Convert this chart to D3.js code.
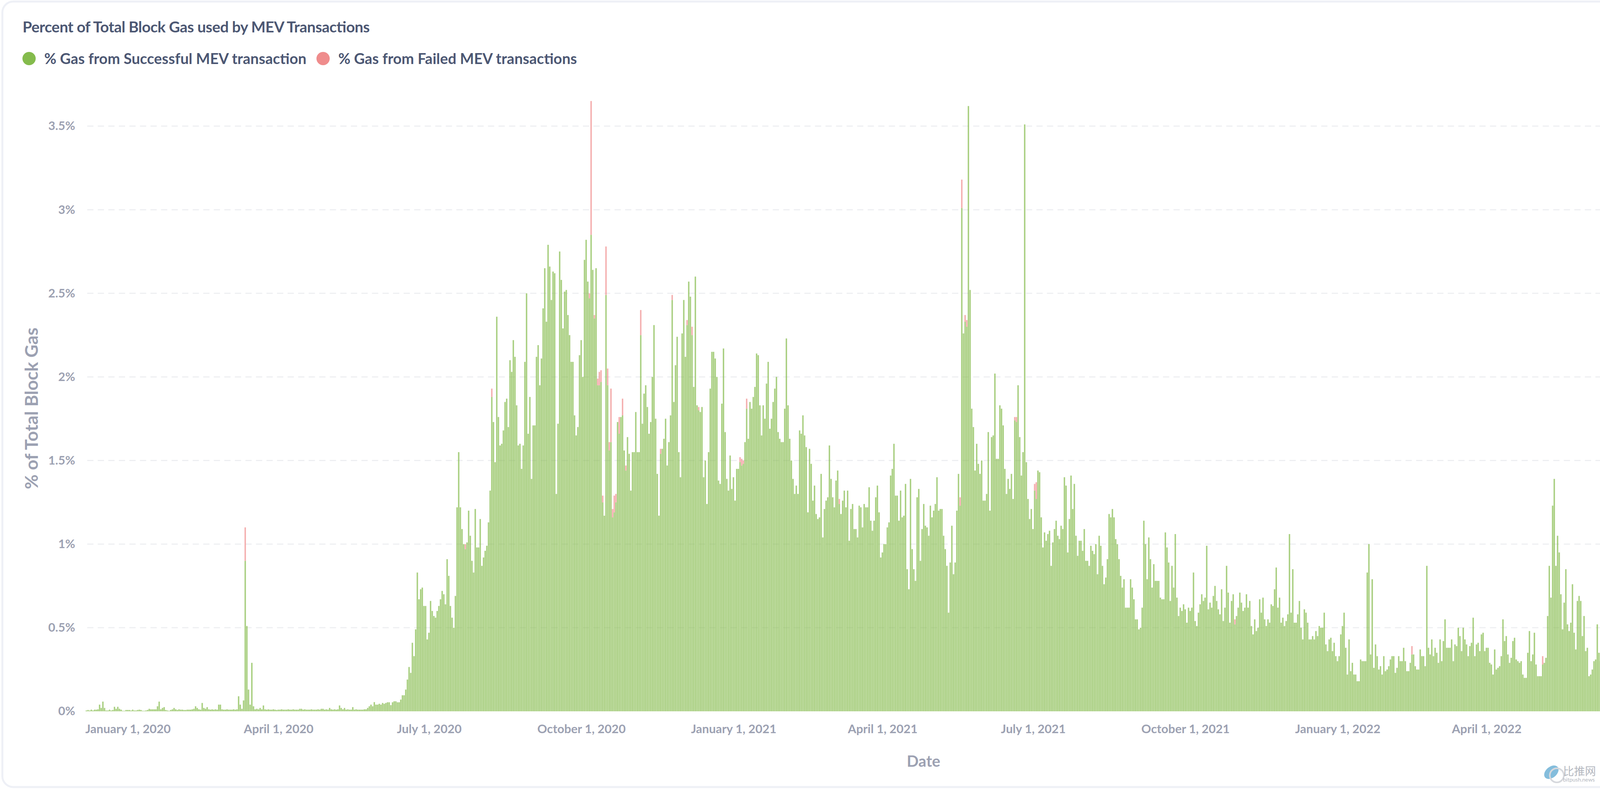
<!DOCTYPE html>
<html>
<head>
<meta charset="utf-8">
<script src="https://cdnjs.cloudflare.com/ajax/libs/d3/7.8.5/d3.min.js"></script>
<style>
    body { margin: 0; background: #fff; overflow: hidden; }
    svg { display: block; font-family: Lato, sans-serif; }
</style>
</head>
<body>
<svg id="chart"></svg>
<script>
const titleText = "Percent of Total Block Gas used by MEV Transactions"
const seriesNames = ["% Gas from Successful MEV transaction", "% Gas from Failed MEV transactions"]
const seriesColors = ["#84bb4c", "#ef8c8c"]
const firstDay = "2019-12-07"
const tickDays = ["2020-01-01", "2020-04-01", "2020-07-01", "2020-10-01", "2021-01-01", "2021-04-01", "2021-07-01", "2021-10-01", "2022-01-01", "2022-04-01"]
const yTicks = [0, 0.5, 1, 1.5, 2, 2.5, 3, 3.5]

// daily values, one array per stretch of the chart
const successEarly = [
    .005, .008, .005, .01, .005, .01, .01, .012, .04, .02, .058, .02, .005, .005, .01, .005, .008, .027, .015, .027,
    .015, .01, .003, .003, .008, .008, .008, .005, .01, .005, .005, .008, .01, .008, .003, .003, .005, .008, .015, .012,
    .012, .012, .012, .03, .058, .012, .02, .025, .008, .005, .003, .008, .012, .02, .012, .008, .012, .01, .01, .008,
    .008, .01, .01, .01, .012, .015, .03, .02, .012, .01, .05, .02, .015, .025, .012, .01, .012, .01, .012, .01,
    .04, .04, .012, .01, .01, .012, .01, .01, .01, .012, .01, .012, .09, .04, .015, .065, .9, .51, .13, .04,
    .29, .03, .012, .015, .012, .02, .012, .035, .012, .01, .012, .01, .01, .012, .01, .008, .01, .01, .012, .01,
    .01, .01, .012, .01, .01, .012, .01, .01, .01, .015, .015, .01, .012, .01, .01, .01, .012, .01, .01, .01,
    .012, .01, .015, .015, .01, .012, .01, .02, .012, .01, .012, .01, .012, .035, .02, .012, .02, .01, .012, .01,
    .01, .025, .01, .012, .01, .01, .01, .01, .012, .012, .02, .03, .04, .03, .055, .04, .04, .045, .04, .05,
    .045, .05
]
const success2020Summer = [
    .054, .054, .037, .054, .06, .06, .054, .054, .07, .096, .096, .13, .19, .265, .23, .41, .33, .49, .83, .67,
    .73, .74, .63, .63, .43, .47, .66, .6, .57, .56, .6, .63, .67, .72, .7, .64, .91, .81, .63, .56,
    .5, .69, 1.22, 1.55, 1.22, 1.09, 1, .97, 1.01, 1.2, 1.05, .9, .83, 1.21, .98, .98, 1.15, .87, .92, .96,
    .99, 1.13, 1.32, 1.88, 1.73, 1.49, 2.36, 1.76, 1.59, 1.6, 1.68, 1.85, 1.87, 1.7, 2.1, 2.03, 2.22, 2.12, 1.83, 1.59,
    1.6, 1.45, 1.59, 2.09, 2.5, 1.66, 1.88, 1.39, 1.71, 1.71, 2.12, 2.19, 1.95, 2.11, 2.41, 2.65, 2.33, 2.79, 2.66, 2.46,
    2.63, 2.62, 1.3, 1.72, 2.75, 2.58, 2.29, 2.51, 2.52, 2.37, 2.25, 2.09, 2.09, 1.77, 1.65, 1.7, 2.13, 2.22, 2, 2.7,
    2.82, 2.57, 2.47, 2.85, 2.64, 2.35, 2.65, 1.95, 1.95, 1.97
]
const success2020Autumn = [
    1.25, 1.17, 2.49, 1.95, 1.56, 1.61, 1.16, 1.19, 1.25, 1.73, 1.66, 1.76, 1.77, 1.56, 1.44, 1.64, 1.54, 1.32, 1.55, 1.55,
    1.79, 1.55, 1.55, 2.25, 1.72, 1.9, 1.95, 1.82, 1.66, 1.73, 2, 2.31, 1.75, 1.42, 1.17, 1.54, 1.57, 1.63, 1.75, 1.47,
    1.61, 1.77, 2.46, 1.85, 2.07, 2.24, 1.55, 1.4, 2.26, 2.46, 2.12, 2.31, 2.57, 2.48, 2.25, 1.94, 2.6, 1.83, 1.8, 1.79,
    1.82, 1.4, 1.5, 1.24, 1.55, 1.93, 2.15, 2.15, 2.11, 2, 1.38, 1.36, 1.84, 2.17, 1.67, 1.39, 1.32, 1.53, 1.33, 1.4,
    1.26, 1.45, 1.45, 1.49, 1.47, 1.48, 1.61, 1.81, 1.63, 1.85, 1.81, 1.88, 1.94, 2.14, 2.13, 1.83, 1.65, 1.83, 1.75, 1.96,
    2.09, 1.69, 1.75, 1.85, 1.93, 2, 1.67, 1.63, 1.61, 1.61, 1.81, 2.23, 1.83, 1.63, 1.5, 1.39, 1.3, 1.35, 1.3, 1.68,
    1.66, 1.77, 1.65, 1.58, 1.19, 1.57, 1.48, 1.26, 1.35, 1.18, 1.15
]
const success2021Spring = [
    1.16, 1.42, 1.04, 1.21, 1.26, 1.28, 1.59, 1.39, 1.28, 1.22, 1.38, 1.44, 1.24, 1.18, 1.26, 1.32, 1.22, 1.32, 1.02, 1.21,
    1.24, 1.09, 1.09, 1.04, 1.23, 1.22, 1.1, 1.24, 1.22, 1.22, 1.34, 1.14, 1.08, 1.14, 1.28, 1.35, 1.19, .92, .95, 1,
    1, 1.1, 1.13, 1.41, 1.45, 1.6, 1.29, 1.29, 1.14, 1.32, 1.16, 1.17, 1.36, .85, .73, 1.39, .97, .85, .78, 1.28,
    1.33, .9, 1.09, 1.24, 1.11, 1.1, 1.05, 1.23, 1.16, 1.2, 1.24, 1.4, 1.2, 1.21, 1.21, 1.05, .97, .87, .59, .89,
    1.11, .82, .89, 1.2, 1.42, 1.23, 3.01, 2.26, 2.33, 2.3, 3.62, 2.52, 1.81, 1.7, 1.44, 1.6, 1.48, 1.42, 1.5, 1.26,
    1.26, 1.3, 1.67, 1.2, 1.64, 1.65, 2.02, 1.51, 1.51, 1.83, 1.81, 1.71, 1.45, 1.3, 1.39, 1.33, 1.42, 1.27, 1.74, 1.73,
    1.95, 1.64, 1.41, 1.55, 3.51, 1.49, 1.27, 1.15, 1.21, 1.09, 1.32
]
const success2021Autumn = [
    1.27, 1.44, 1.43, 1.16, .98, 1.07, 1.02, 1.06, 1.08, .87, 1.01, 1.09, 1.14, 1.05, 1.03, 1.11, 1.09, 1.4, 1.35, .95,
    1.15, 1.41, 1.21, 1.36, 1.05, .93, 1.02, 1.02, .96, 1.09, .9, .9, .87, .99, .96, .94, 1, .82, 1.05, .99,
    .87, .76, .8, .91, 1.18, 1.16, 1.21, 1.16, 1.03, 1, .91, .81, .74, .79, .62, .62, .62, .79, .74, .67,
    .55, .55, .49, .5, .62, 1.14, 1, .79, 1.04, .91, .74, .88, .78, .78, .78, .68, .67, .67, 1.07, .98,
    .89, .66, .87, .74, 1.06, .68, .57, .62, .6, .64, .61, .53, .62, .6, .62, .83, .54, .51, .59, .64,
    .7, .66, .68, .99, .61, .65, .62, .69, .75, .66, .61, .58, .73, .54, .62, .87, .71, .53, .66, .7,
    .52, .57, .62, .71, .65, .6, .62, .7, .62, .66, .51
]
const success2022 = [
    .46, .55, .48, .5, .67, .59, .68, .55, .51, .55, .53, .64, .63, .73, .86, .62, .68, .53, .56, .51,
    .54, .58, 1.06, .59, .85, .53, .53, .58, .66, .5, .43, .61, .59, .53, .43, .43, .45, .43, .48, .45,
    .51, .5, .5, .59, .4, .36, .43, .44, .36, .41, .33, .3, .33, .46, .51, .59, .38, .22, .43, .24,
    .29, .22, .22, .18, .18, .31, .3, .3, .3, .83, 1, .34, .79, .26, .4, .33, .25, .27, .22, .33,
    .24, .25, .27, .31, .33, .33, .23, .26, .33, .3, .3, .38, .3, .24, .24, .29, .34, .34, .27, .25,
    .25, .37, .33, .33, .27, .87, .38, .34, .43, .33, .38, .35, .29, .43, .3, .42, .55, .38, .38, .38,
    .43, .3, .4, .39, .5, .45, .36, .5, .43, .4, .33
]
const success2022Late = [
    .39, .41, .56, .33, .4, .41, .36, .46, .47, .36, .38, .38, .29, .28, .22, .37, .25, .26, .27, .33,
    .55, .42, .45, .34, .29, .32, .42, .44, .31, .3, .29, .3, .22, .2, .2, .35, .48, .3, .34, .47,
    .28, .21, .21, .21, .28, .29, .32, .57, .87, .68, 1.23, 1.39, .87, 1.05, .95, .7, .49, .65, .85, .52,
    .48, .53, .76, .47, .37, .66, .69, .66, .45, .57, .36, .38, .21, .22, .25, .3, .31, .52, .35, .3
]
const successPct = [...successEarly, ...success2020Summer, ...success2020Autumn, ...success2021Spring, ...success2021Autumn, ...success2022, ...success2022Late]

// failed gas only shows on a few days, dayIndex counts from firstDay
const failedDayIndex = [96, 229, 245, 304, 305, 307, 309, 310, 311, 312, 314, 315, 316, 317, 318, 319, 320, 322, 324, 326, 335, 347, 354, 363, 366, 370, 395, 396, 397, 399, 455, 528, 529, 531, 532, 561, 562, 573, 574, 694, 801, 880]
const failedPct = [.2, .03, .05, .03, .8, .02, .04, .08, .07, .04, .29, .1, .05, .32, .05, .1, .05, .1, .1, .03, .15, .03, .03, .03, .05, .02, .03, .04, .02, .06, .03, .05, .17, .04, .04, .02, .03, .04, .1, .03, .05, .05]

const parseDay = d3.utcParse("%Y-%m-%d")
const startDay = parseDay(firstDay)
const dayAt = i => d3.utcDay.offset(startDay, i)

// the window can be narrower than the 5175 wide original, horizontal layout follows it
const width = window.innerWidth, height = window.innerHeight
const sx = width / 5175
const marginLeft = 277 * sx, plotRight = 5180 * sx, baseY = 1822, topY = 323

const x = d3.scaleUtc()
    .domain([startDay, dayAt(successPct.length)])
    .range([marginLeft, plotRight])
const y = d3.scaleLinear()
    .domain([0, 3.5])
    .range([baseY, topY])

const dayWidth = x(dayAt(1)) - x(dayAt(0))
const barWidth = dayWidth - 0.6

const svg = d3.select("#chart")
    .attr("width", width)
    .attr("height", height)

// card outline
svg.append("rect")
    .attr("x", 6).attr("y", 4)
    .attr("width", width + 100).attr("height", 2012)
    .attr("rx", 28)
    .attr("fill", "#fff")
    .attr("stroke", "#eef0f6")
    .attr("stroke-width", 5)

svg.append("text")
    .attr("x", 73 * sx).attr("y", 83)
    .attr("font-size", 39).attr("font-weight", 700)
    .attr("fill", "#4c5773")
    .attr("textLength", 1123 * sx)
    .text(titleText)

const legendX = [94, 1045]
seriesNames.forEach((name, i) => {
    svg.append("circle")
        .attr("cx", legendX[i] * sx).attr("cy", 150).attr("r", 17)
        .attr("fill", seriesColors[i])
    svg.append("text")
        .attr("x", (legendX[i] + 49) * sx).attr("y", 164)
        .attr("font-size", 38).attr("font-weight", 700)
        .attr("fill", "#4c5773")
        .text(name)
})

// grid
svg.append("g")
    .selectAll("line")
    .data(yTicks.slice(1))
    .enter().append("line")
    .attr("x1", marginLeft + 4).attr("x2", width)
    .attr("y1", d => y(d)).attr("y2", d => y(d))
    .attr("stroke", "#eeeff2")
    .attr("stroke-width", 3)
    .attr("stroke-dasharray", "16 11")

// stacked bars
svg.append("g")
    .selectAll("rect")
    .data(successPct)
    .enter().append("rect")
    .attr("x", (d, i) => x(dayAt(i)))
    .attr("y", d => y(d))
    .attr("width", barWidth)
    .attr("height", d => y(0) - y(d))
    .attr("fill", seriesColors[0])
    .attr("fill-opacity", 0.7)

svg.append("g")
    .selectAll("rect")
    .data(failedPct)
    .enter().append("rect")
    .attr("x", (d, i) => x(dayAt(failedDayIndex[i])))
    .attr("y", (d, i) => y(successPct[failedDayIndex[i]] + d))
    .attr("width", barWidth)
    .attr("height", d => y(0) - y(d))
    .attr("fill", seriesColors[1])
    .attr("fill-opacity", 0.7)

// axes
const yAxis = svg.append("g")
    .attr("transform", `translate(${243 * sx + 3},0)`)
    .call(d3.axisLeft(y).tickValues(yTicks).tickFormat(d => d + "%").tickSize(0))
const xAxis = svg.append("g")
    .attr("transform", `translate(${dayWidth / 2},${baseY + 31})`)
    .call(d3.axisBottom(x).tickValues(tickDays.map(parseDay)).tickFormat(d3.utcFormat("%B %-d, %Y")).tickSize(0))

yAxis.select(".domain").remove()
xAxis.select(".domain").remove()
svg.selectAll(".tick text")
    .attr("font-family", "Lato, sans-serif")
    .attr("font-size", 31)
    .attr("font-weight", 700)
    .attr("fill", "#9ca1b2")

svg.append("text")
    .attr("transform", `translate(${122 * sx},1046) rotate(-90)`)
    .attr("text-anchor", "middle")
    .attr("font-size", 46).attr("font-weight", 700)
    .attr("fill", "#9ca1b2")
    .text("% of Total Block Gas")

svg.append("text")
    .attr("x", 2987 * sx).attr("y", 1964)
    .attr("text-anchor", "middle")
    .attr("font-size", 40).attr("font-weight", 700)
    .attr("fill", "#9ca1b2")
    .text("Date")

// watermark
const markX = 5000 * sx - 6
const mark = svg.append("g")
    .attr("transform", `translate(${markX},1960)`)
    .attr("opacity", 0.75)
mark.append("ellipse")
    .attr("cx", 20).attr("cy", 18).attr("rx", 21).attr("ry", 14)
    .attr("transform", "rotate(-40 20 18)")
    .attr("fill", "#5ba7d1")
mark.append("circle")
    .attr("cx", 34).attr("cy", 26).attr("r", 18)
    .attr("fill", "none").attr("stroke", "#c9ccd2").attr("stroke-width", 4)
mark.append("text")
    .attr("x", 50).attr("y", 26)
    .attr("font-family", "'Noto Sans CJK SC'")
    .attr("font-size", 28)
    .attr("fill", "#9aa0aa")
    .text("比推网")
mark.append("text")
    .attr("x", 50).attr("y", 42)
    .attr("font-size", 14)
    .attr("fill", "#9aa0aa")
    .text("bitpush.news")
</script>
</body>
</html>
